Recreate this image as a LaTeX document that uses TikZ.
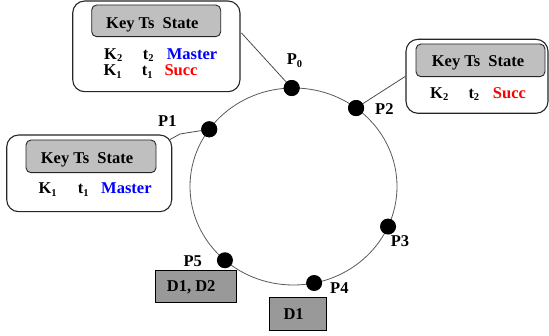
\documentclass[tikz,border=0pt]{standalone}
\usepackage{fontspec}
\setmainfont{Liberation Serif}
\usetikzlibrary{calc}
\begin{document}
\begin{tikzpicture}[x=1pt,y=-1pt,
  txt/.style={anchor=base west,inner sep=0pt,font=\fontsize{16.5}{18}\selectfont\bfseries},
  outerbox/.style={draw=black!85,line width=1.1pt,rounded corners=12pt,fill=white,inner sep=0pt},
  hdrbox/.style={draw=black!85,line width=0.9pt,rounded corners=5pt,fill=black!25,inner sep=0pt},
  dbox/.style={draw=black,line width=0.8pt,fill=black!40,inner sep=0pt},
  dot/.style={circle,fill=black,minimum size=16pt,inner sep=0pt},
  ring/.style={draw=black!65,line width=0.8pt},
  conn/.style={draw=black!70,line width=0.8pt}]
\newcommand\sbs[1]{\raisebox{-0.35ex}{\fontsize{10.5}{10.5}\selectfont #1}}
\useasboundingbox (0,0) rectangle (549,336);
% ring
\coordinate (c) at (293.5,186.5);
\draw[ring] (c) ellipse [x radius=103.5pt, y radius=98.5pt];
% boxes
\node[outerbox,minimum width=167.3pt,minimum height=90.7pt] (tl) at (156.35,46.35) {};
\node[hdrbox,minimum width=129pt,minimum height=31.7pt] (tlh) at (156.2,20.85) {};
\node[outerbox,minimum width=165pt,minimum height=76.7pt] (bl) at (89.2,173.35) {};
\node[hdrbox,minimum width=130pt,minimum height=32.7pt] (blh) at (91,156.35) {};
\node[outerbox,minimum width=142pt,minimum height=74pt] (rb) at (477,76.3) {};
\node[hdrbox,minimum width=129pt,minimum height=32.7pt] (rbh) at (480.5,60.35) {};
\node[dbox,minimum width=81.7pt,minimum height=32.7pt] (d12) at (195.85,286.35) {};
\node[dbox,minimum width=56.7pt,minimum height=32.7pt] (d1) at (297.65,313.65) {};
% connector anchors
\coordinate (c0) at (241.5,33);
\coordinate (c1) at (170,139.5);
\coordinate (c1b) at (180,134);
% dots
\node[dot] (p0) at ($(c)+(91:103.5pt and 98.5pt)$) {};
\node[dot] (p2) at ($(c)+(52.8:103.5pt and 98.5pt)$) {};
\node[dot] (p1) at ($(c)+(144.5:103.5pt and 98.5pt)$) {};
\node[dot] (p3) at ($(c)+(-24:103.5pt and 98.5pt)$) {};
\node[dot] (p4) at ($(c)+(-78.5:103.5pt and 98.5pt)$) {};
\node[dot] (p5) at ($(c)+(-131.5:103.5pt and 98.5pt)$) {};
% connectors
\draw[conn] (c0) -- (p0.center);
\draw[conn] (c1) -- (c1b) -- (p1.center);
\draw[conn] (rb.west) -- (p2.center);
\node[dot] at (p0) {};
\node[dot] at (p1) {};
\node[dot] at (p2) {};
% header texts
\node[txt] (h1) at (106,28.3) {Key Ts\hspace{8pt}State};
\node[txt] (h2) at (40.7,163.3) {Key Ts\hspace{8pt}State};
\node[txt] (h3) at (431.7,66.7) {Key Ts\hspace{8pt}State};
% top-left rows
\node[txt] (k2a) at (104,59.3) {K\sbs{2}};
\node[txt] (t2a) at (142.7,59.3) {t\sbs{2}};
\node[txt,text=blue] (m1) at (166.7,59.3) {Master};
\node[txt] (k1a) at (103.3,76) {K\sbs{1}};
\node[txt] (t1a) at (141.7,76) {t\sbs{1}};
\node[txt,text=red] (s1) at (164.3,76) {Succ};
% left box row
\node[txt] (k1b) at (38.3,194) {K\sbs{1}};
\node[txt] (t1b) at (77.7,194) {t\sbs{1}};
\node[txt,text=blue] (m2) at (101,194) {Master};
% right box row
\node[txt] (k2c) at (430,98.3) {K\sbs{2}};
\node[txt] (t2c) at (468.3,98.3) {t\sbs{2}};
\node[txt,text=red] (s2) at (492.7,98.3) {Succ};
% labels
\node[txt] (l0) at (286.7,65) {P\sbs{0}};
\node[txt] (l1) at (158,126.7) {P1};
\node[txt] (l2) at (375,115) {P2};
\node[txt] (l3) at (390.7,246.7) {P3};
\node[txt] (l4) at (330,293.3) {P4};
\node[txt] (l5) at (183.3,266.7) {P5};
\node[txt] (td12) at (166.7,291.7) {D1, D2};
\node[txt] (td1) at (283.3,319.3) {D1};
\end{tikzpicture}
\end{document}
